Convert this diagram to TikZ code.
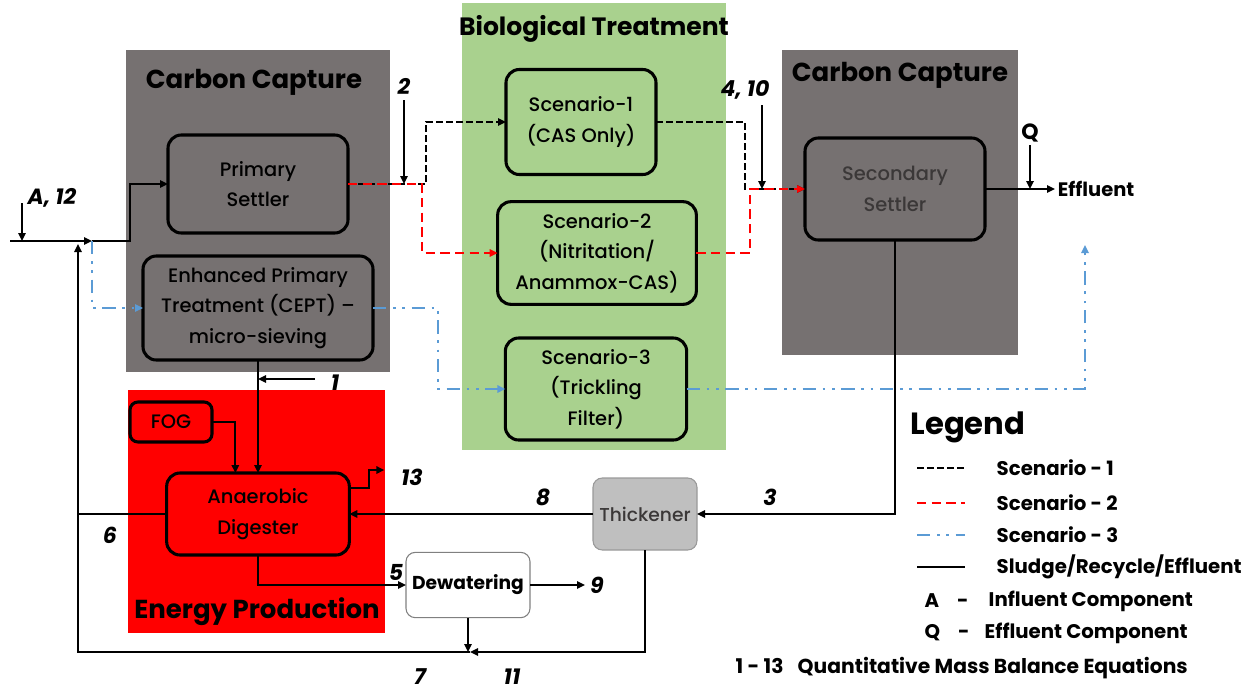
\documentclass[tikz,border=0pt]{standalone}
\usepackage{fontspec}
\setmainfont{Poppins}[UprightFont={* Medium},BoldFont={* Bold},ItalicFont={* Italic},BoldItalicFont={* Bold Italic}]
\usetikzlibrary{arrows.meta}
\definecolor{ccgray}{HTML}{767171}
\definecolor{biogreen}{HTML}{A9D18E}
\definecolor{enred}{HTML}{FF0000}
\definecolor{thgray}{HTML}{BFBFBF}
\definecolor{scblue}{HTML}{5B9BD5}
\definecolor{sstext}{HTML}{3B3838}
\begin{document}
\begin{tikzpicture}[x=0.75pt,y=-0.75pt,
  proc/.style={draw=black,line width=2.3pt,rounded corners=10pt,align=center,
    inner sep=2pt,outer sep=0pt,font=\fontsize{14.6}{23}\selectfont},
  zone/.style={font=\bfseries\fontsize{19.5}{22}\selectfont},
  num/.style={font=\bfseries\itshape\fontsize{16.5}{18}\selectfont},
  flow/.style={line width=1.5pt},
  tip/.style={-{Triangle[length=6pt,width=5.5pt]}},
  s1line/.style={line width=1.7pt,dash pattern=on 5pt off 2.5pt},
  s2line/.style={line width=2pt,draw=enred,dash pattern=on 7pt off 4pt},
  s3line/.style={line width=2pt,draw=scblue,dash pattern=on 10pt off 5pt on 2pt off 5pt on 2pt off 5pt},
  legtxt/.style={anchor=west,font=\bfseries\fontsize{14.8}{17}\selectfont}]
\useasboundingbox (0,0) rectangle (1256,693);

% process zones
\fill[ccgray] (126,50) rectangle (390,372);
\fill[biogreen] (462,3) rectangle (726,450);
\fill[ccgray] (782,50) rectangle (1018,355);
\fill[enred] (128,390) rectangle (385,633);
\node[zone] (zcc1) at (254,82) {Carbon Capture};
\node[zone,font=\bfseries\fontsize{18.8}{22}\selectfont] (zbio) at (594,29) {Biological Treatment};
\node[zone] (zcc2) at (900,75) {Carbon Capture};
\node[zone] (zen) at (257,612) {Energy Production};

% unit processes
\node[proc,fill=ccgray,minimum width=135pt,minimum height=73.5pt] (ps) at (258,184) {Primary\\Settler};
\node[proc,fill=ccgray,minimum width=172.5pt,minimum height=78pt] (cept) at (258,308) {Enhanced Primary\\Treatment (CEPT) --\\micro-sieving};
\node[proc,fill=biogreen,minimum width=112.5pt,minimum height=78.75pt] (sc1) at (581,122) {Scenario-1\\(CAS Only)};
\node[proc,fill=biogreen,minimum width=149pt,minimum height=77pt] (sc2) at (597,253) {Scenario-2\\(Nitritation/\\Anammox-CAS)};
\node[proc,fill=biogreen,minimum width=136pt,minimum height=76.5pt] (sc3) at (596,389) {Scenario-3\\(Trickling\\Filter)};
\node[proc,fill=ccgray,text=sstext,minimum width=135pt,minimum height=76.5pt] (ss) at (895,189) {Secondary\\Settler};
\node[proc,fill=enred,minimum width=61.5pt,minimum height=30pt,rounded corners=6pt] (fog) at (171,422) {FOG};
\node[proc,fill=enred,minimum width=137pt,minimum height=61.5pt] (ad) at (258,514) {Anaerobic\\Digester};
\node[proc,draw=thgray!80!black,line width=0.8pt,fill=thgray,text=sstext,minimum width=78pt,minimum height=54pt,rounded corners=7pt,font=\fontsize{14}{17}\selectfont] (th) at (645,514) {Thickener};
\node[proc,draw=gray,line width=0.8pt,fill=white,minimum width=93pt,minimum height=49pt,rounded corners=7pt,font=\bfseries\fontsize{14}{17}\selectfont] (dw) at (468,585) {Dewatering};

% junction points
\coordinate (inl) at (10,241);
\coordinate (jn) at (92,241);
\coordinate (a12top) at (22,203);
\coordinate (rx) at (78,244);
\coordinate (mix) at (470,652);
\coordinate (splitB) at (426,184);
\coordinate (splitR) at (422,184);
\coordinate (mergeB) at (745,189);
\coordinate (mergeR) at (750,189);
\coordinate (b2) at (438,308);
\coordinate (b3) at (1085,245);
\coordinate (twotop) at (404,100);
\coordinate (ftentop) at (762,105);
\coordinate (qtop) at (1030,145);
\coordinate (onestart) at (315,379);

% influent and primary treatment
\draw[flow,tip] (inl) -- (jn);
\draw[flow,tip] (a12top) -- (a12top |- inl);
\draw[flow,tip] (jn) -- ++(38,0) |- (ps.west);
\draw[s3line,tip] (jn) |- (cept.west);

% scenario 1 and 2 streams
\draw[s1line,tip] (ps.east) -- (splitB) |- (sc1.west);
\draw[s2line,tip] (ps.east) -- (splitR) |- (sc2.west);
\draw[flow,tip] (twotop) -- (twotop |- ps.east);
\draw[s1line,tip] (sc1.east) -| (mergeB) -- (ss.west);
\draw[s2line,tip] (sc2.east) -| (mergeR) -- (ss.west);
\draw[flow,tip] (ftentop) -- (ftentop |- ss.west);

% scenario 3 stream
\draw[s3line,tip] (cept.east) -- (b2) |- (sc3.west);
\draw[s3line,tip] (sc3.east) -| (b3);

% effluent
\draw[flow,tip] (ss.east) -- ++(70,0) coordinate (effend);
\node[anchor=west,font=\bfseries\fontsize{14.6}{17}\selectfont,inner sep=2pt] (eff) at (effend) {Effluent};
\draw[flow,tip] (qtop) -- (qtop |- ss.east);

% sludge line
\draw[flow,tip] (ss.south) |- (th.east);
\draw[flow,tip] (th.west) -- (ad.east);
\draw[flow,tip] (cept.south) -- (ad.north);
\draw[flow,tip] (onestart) -- (onestart -| cept.south);
\draw[flow,tip] (fog.east) -| ([xshift=-17pt]ad.north);
\draw[flow,tip] ([yshift=19.5pt]ad.east) -- ++(20,0) |- ++(15,-18) coordinate (gasend);
\draw[flow,tip] (ad.south) |- (dw.west);
\draw[flow,tip] (dw.east) -- ++(55,0) coordinate (cakeend);
\draw[flow,tip] (dw.south) -- (dw.south |- mix);
\draw[flow,tip] (th.south) |- (mix);
\draw[flow,tip] (mix) -| (rx);
\draw[flow] (ad.west) -- (ad.west -| rx);

% stream labels
\node[num] (la12) at (52,198) {A, 12};
\node[num] (l1) at (335,383) {1};
\node[num] (l2) at (404,86) {2};
\node[num] (l3) at (770,497) {3};
\node[num] (l410) at (745,90) {4, 10};
\node[num] (l5) at (396,572) {5};
\node[num] (l6) at (110,535) {6};
\node[num] (l7) at (420,677) {7};
\node[num] (l8) at (543,497) {8};
\node[num] (l9) at (597,585) {9};
\node[num] (l11) at (512,677) {11};
\node[num] (l13) at (412,477) {13};
\node[font=\bfseries\fontsize{16.5}{18}\selectfont] (lq) at (1030,133) {Q};

% legend
\node[font=\bfseries\fontsize{23}{26}\selectfont] (legt) at (968,427) {Legend};
\draw[s1line] (917,468) -- (965,468);
\draw[s2line] (917,503) -- (965,503);
\draw[s3line] (917,535) -- (965,535);
\draw[flow,line width=2pt] (917,567) -- (965,567);
\node[legtxt] (lg1) at (992,468) {Scenario - 1};
\node[legtxt] (lg2) at (992,503) {Scenario - 2};
\node[legtxt] (lg3) at (992,535) {Scenario - 3};
\node[legtxt] (lg4) at (992,567) {Sludge/Recycle/Effluent};
\node[legtxt] (lg5a) at (920,601) {A\hspace{0.9em}-};
\node[legtxt] (lg5) at (984,601) {Influent Component};
\node[legtxt] (lg6a) at (920,633) {Q\hspace{0.9em}-};
\node[legtxt] (lg6) at (980,633) {Effluent Component};
\node[legtxt,font=\bfseries\fontsize{15.2}{17}\selectfont] (lg7) at (731,668) {1 - 13\hspace{0.7em}Quantitative Mass Balance Equations};
\end{tikzpicture}
\end{document}
